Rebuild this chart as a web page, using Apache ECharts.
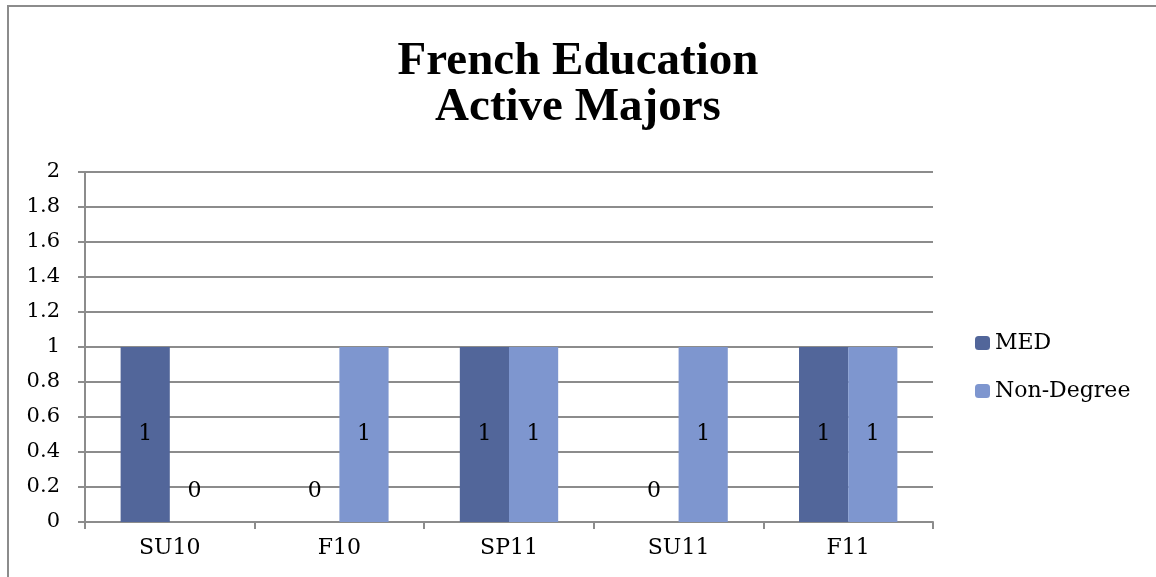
<!DOCTYPE html>
<html>
<head>
<meta charset="utf-8">
<script src="https://cdn.jsdelivr.net/npm/echarts@6/dist/echarts.min.js"></script>
<style>
  html, body { margin: 0; padding: 0; background: #fff; }
  #main { width: 1156px; height: 577px; }
</style>
</head>
<body>
<div id="main"></div>
<script>
var terms = ['SU10', 'F10', 'SP11', 'SU11', 'F11'];
var medValues = [1, 0, 1, 0, 1];
var nonDegreeValues = [0, 1, 1, 1, 1];
var yTicks = ['0', '0.2', '0.4', '0.6', '0.8', '1', '1.2', '1.4', '1.6', '1.8', '2'];

var serif = '"DejaVu Serif", "Liberation Serif", serif';
var myChart = echarts.init(document.getElementById('main'));

function labelFor(v) {
  // zero bars show their label just above the axis, others in the middle
  return v === 0
    ? { show: true, position: 'insideBottom', distance: 20 }
    : { show: true, position: 'inside' };
}

var option = {
  backgroundColor: '#fff',
  animation: false,
  title: {
    text: 'French Education\nActive Majors',
    left: 'center',
    top: 34,
    textStyle: {
      fontFamily: '"Liberation Serif", serif',
      fontWeight: 'bold',
      fontSize: 47,
      lineHeight: 46,
      color: '#000'
    }
  },
  legend: {
    orient: 'vertical',
    left: 975,
    top: 331,
    padding: 0,
    itemWidth: 15,
    itemHeight: 14,
    itemGap: 24,
    textStyle: { fontFamily: serif, fontSize: 22, lineHeight: 24, color: '#000' },
    data: ['MED', 'Non-Degree']
  },
  graphic: [{
    type: 'rect',
    shape: { x: 8, y: 6, width: 1200, height: 700 },
    style: { fill: 'none', stroke: '#8c8c8c', lineWidth: 2 }
  }],
  grid: { left: 85, right: 223, top: 172, bottom: 55 },
  xAxis: {
    type: 'category',
    data: terms,
    axisLine: { lineStyle: { color: '#8c8c8c', width: 2 } },
    axisTick: { show: true, length: 7, lineStyle: { color: '#8c8c8c', width: 2 } },
    axisLabel: { fontFamily: serif, fontSize: 22, color: '#000', margin: 15 }
  },
  yAxis: {
    type: 'value',
    min: 0,
    max: 2,
    interval: 0.2,
    axisLine: { show: true, lineStyle: { color: '#8c8c8c', width: 2 } },
    axisTick: { show: true, length: 7, lineStyle: { color: '#8c8c8c', width: 2 } },
    splitLine: { lineStyle: { color: '#8c8c8c', width: 2 } },
    axisLabel: {
      fontFamily: serif, fontSize: 21, color: '#000', margin: 25,
      formatter: function (v) { return yTicks[Math.round(v * 5)]; }
    }
  },
  series: [{
    name: 'MED',
    type: 'bar',
    barGap: '0%',
    barCategoryGap: '42%',
    itemStyle: { color: '#52669a' },
    label: { fontFamily: serif, fontSize: 22, color: '#000' },
    data: medValues.map(function (v) { return { value: v, label: labelFor(v) }; })
  }, {
    name: 'Non-Degree',
    type: 'bar',
    itemStyle: { color: '#7e96cf' },
    label: { fontFamily: serif, fontSize: 22, color: '#000' },
    data: nonDegreeValues.map(function (v) { return { value: v, label: labelFor(v) }; })
  }]
};

myChart.setOption(option);
</script>
</body>
</html>
